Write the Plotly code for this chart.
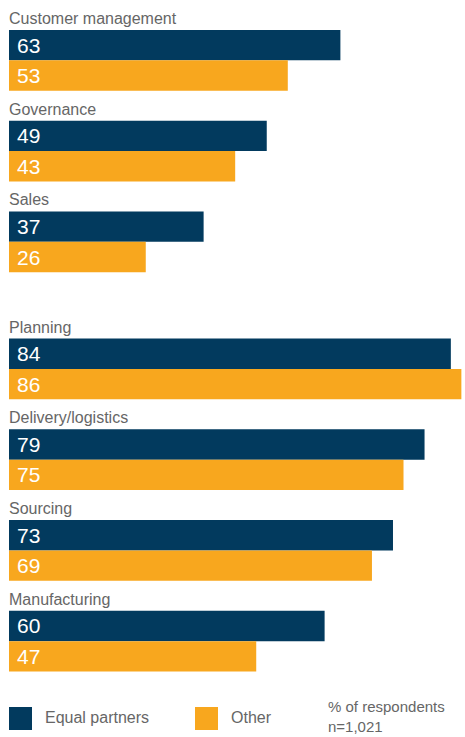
import plotly.graph_objects as go

group1 = ["Customer management", "Governance", "Sales"]
group2 = ["Planning", "Delivery/logistics", "Sourcing", "Manufacturing"]
categories = group1 + group2
equal_partners = [63, 49, 37, 84, 79, 73, 60]
other = [53, 43, 26, 86, 75, 69, 47]
series_names = ["Equal partners", "Other"]
note_lines = ["% of respondents", "n=1,021"]

NAVY = "#023a5e"
ORANGE = "#f8a71e"
GREY = "#666666"
FONT = "Liberation Sans"

W, H = 465, 737
ML, MR, MT, MB = 9, 1, 15, 55
GAP = 0.4
BW = 0.335

pos = [i + (GAP if i >= len(group1) else 0) for i in range(len(categories))]

fig = go.Figure()
fig.add_bar(y=pos, x=equal_partners, orientation="h", width=BW, offset=-BW,
            marker=dict(color=NAVY, line=dict(width=0)), name=series_names[0],
            hoverinfo="x")
fig.add_bar(y=pos, x=other, orientation="h", width=BW, offset=0,
            marker=dict(color=ORANGE, line=dict(width=0)), name=series_names[1],
            hoverinfo="x")

ann = []
for p, c, e, o in zip(pos, categories, equal_partners, other):
    ann.append(dict(x=0, y=p - BW, xref="x", yref="y", text=c, showarrow=False,
                    xanchor="left", yanchor="bottom", yshift=1, xshift=-2,
                    font=dict(family=FONT, size=16, color=GREY)))
    ann.append(dict(x=0, y=p - BW / 2, xref="x", yref="y", text=str(e), showarrow=False,
                    xanchor="left", yanchor="middle", xshift=6,
                    font=dict(family=FONT, size=21, color="white")))
    ann.append(dict(x=0, y=p + BW / 2, xref="x", yref="y", text=str(o), showarrow=False,
                    xanchor="left", yanchor="middle", xshift=6,
                    font=dict(family=FONT, size=21, color="white")))

pw, ph = W - ML - MR, H - MT - MB
def px(x):
    return (x - ML) / pw
def py(y):
    return (H - MB - y) / ph

shapes = []
for x0, col, name in [(9, NAVY, series_names[0]), (195, ORANGE, series_names[1])]:
    shapes.append(dict(type="rect", xref="paper", yref="paper",
                       x0=px(x0), x1=px(x0 + 23), y0=py(730), y1=py(707),
                       fillcolor=col, line=dict(width=0)))
    ann.append(dict(x=px(x0 + 34), y=py(717), xref="paper", yref="paper", text=name,
                    showarrow=False, xanchor="left", yanchor="middle",
                    font=dict(family=FONT, size=16, color=GREY)))
ann.append(dict(x=px(327), y=py(736), xref="paper", yref="paper",
                text="<br>".join(note_lines), showarrow=False, xanchor="left",
                yanchor="bottom", align="left", borderpad=0,
                font=dict(family=FONT, size=15, color=GREY)))

fig.update_layout(
    width=W, height=H, autosize=False,
    margin=dict(l=ML, r=MR, t=MT, b=MB),
    paper_bgcolor="white", plot_bgcolor="white",
    barmode="overlay", showlegend=False,
    xaxis=dict(range=[0, 86.5], visible=False, fixedrange=True),
    yaxis=dict(range=[6.85, -0.5], visible=False, fixedrange=True),
    annotations=ann, shapes=shapes,
)

fig.write_html("out.html", config={"displayModeBar": False},
               post_script="document.body.style.margin='0';document.body.style.overflow='hidden';")
